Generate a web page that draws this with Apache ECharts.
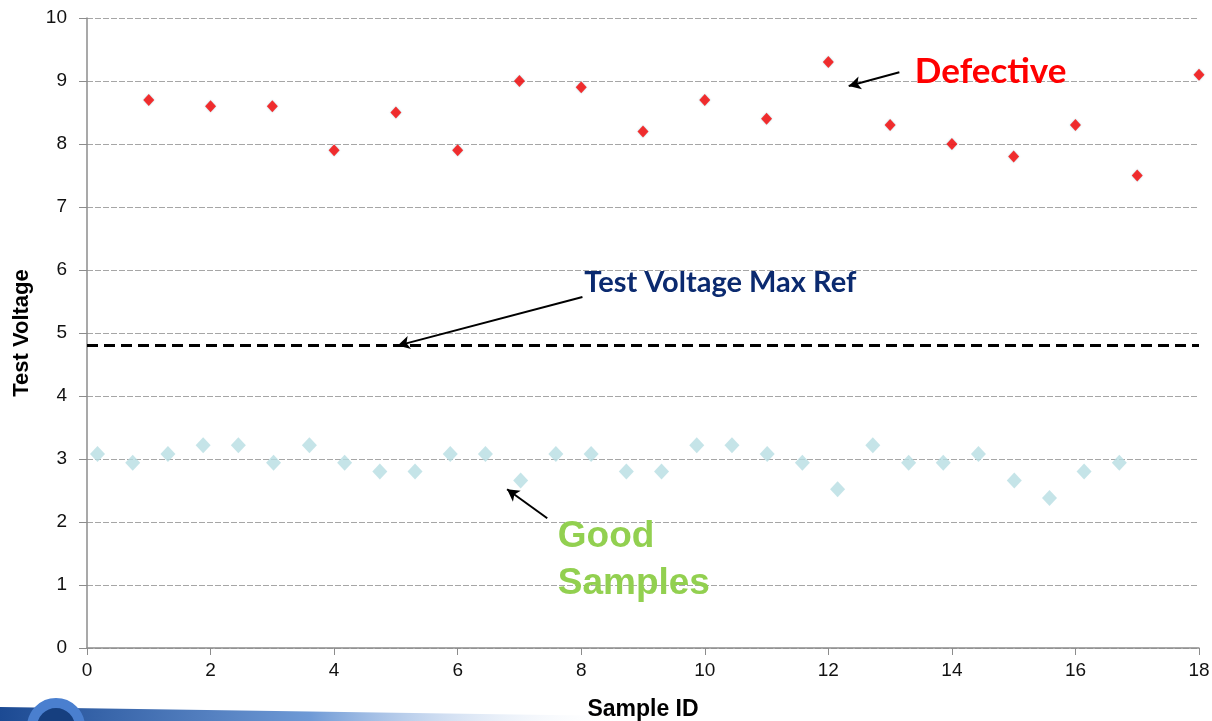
<!DOCTYPE html>
<html>
<head>
<meta charset="utf-8">
<script src="https://cdn.jsdelivr.net/npm/echarts@6/dist/echarts.min.js"></script>
<style>
html,body{margin:0;padding:0;background:#fff;}
#chart{width:1212px;height:721px;}
</style>
</head>
<body>
<div id="chart"></div>
<script>
// ---- data ----
const goodX = [0.17,0.74,1.31,1.88,2.45,3.02,3.60,4.17,4.74,5.31,5.88,6.45,7.02,7.59,8.16,
               8.73,9.30,9.87,10.44,11.01,11.58,12.15,12.72,13.30,13.86,14.43,15.01,15.58,16.14,16.71];
const goodY = [3.08,2.94,3.08,3.22,3.22,2.94,3.22,2.94,2.80,2.80,3.08,3.08,2.66,3.08,3.08,
               2.80,2.80,3.22,3.22,3.08,2.94,2.52,3.22,2.94,2.94,3.08,2.66,2.38,2.80,2.94];
const defectX = [1,2,3,4,5,6,7,8,9,10,11,12,13,14,15,16,17,18];
const defectY = [8.7,8.6,8.6,7.9,8.5,7.9,9.0,8.9,8.2,8.7,8.4,9.3,8.3,8.0,7.8,8.3,7.5,9.1];
const refVoltage = 4.8;
const xAxisName = 'Sample ID';
const yAxisName = 'Test Voltage';
const labelDefective = 'Defective';
const labelRef = 'Test Voltage Max Ref';
const labelGood = 'Good\nSamples';

const goodData = goodX.map((x, i) => [x, goodY[i]]);
const defectData = defectX.map((x, i) => [x, defectY[i]]);

const chart = echarts.init(document.getElementById('chart'));
const arrowLine = (from, to) => ({
  type: 'line', data: [], silent: true,
  markLine: {
    silent: true, animation: false,
    symbol: ['none', 'arrow'], symbolSize: [10, 12],
    label: {show: false},
    lineStyle: {color: '#000', width: 2, type: 'solid'},
    data: [[{coord: from}, {coord: to}]]
  }
});

chart.setOption({
  animation: false,
  backgroundColor: '#fff',
  grid: {left: 87, right: 13, top: 18, bottom: 73, containLabel: false, outerBoundsMode: 'none'},
  xAxis: {
    type: 'value', min: 0, max: 18, interval: 2,
    name: xAxisName, nameLocation: 'middle', nameGap: 50,
    nameTextStyle: {fontFamily: 'Liberation Sans', fontWeight: 'bold', fontSize: 23, color: '#000'},
    axisLine: {show: true, lineStyle: {color: '#8c8c8c', width: 1.5}},
    axisTick: {show: true, length: 7, lineStyle: {color: '#8c8c8c'}},
    axisLabel: {fontFamily: 'Liberation Sans', fontSize: 19, color: '#111', margin: 13},
    splitLine: {show: false}
  },
  yAxis: {
    type: 'value', min: 0, max: 10, interval: 1,
    name: yAxisName, nameLocation: 'middle', nameGap: 54, nameRotate: 90,
    nameTextStyle: {fontFamily: 'Liberation Sans', fontWeight: 'bold', fontSize: 22, color: '#000'},
    axisLine: {show: true, lineStyle: {color: '#8c8c8c', width: 1.5}},
    axisTick: {show: true, length: 8, lineStyle: {color: '#8c8c8c'}},
    axisLabel: {fontFamily: 'Liberation Sans', fontSize: 19, color: '#111', margin: 20},
    splitLine: {show: true, lineStyle: {color: '#a6a6a6', width: 1, type: [6, 2]}}
  },
  series: [
    {
      name: 'Good', type: 'scatter', data: goodData,
      symbol: 'diamond', symbolSize: [15, 16],
      itemStyle: {color: '#b7dde2'}
    },
    {
      name: 'Defective', type: 'scatter', data: defectData,
      symbol: 'diamond', symbolSize: [11, 12],
      itemStyle: {color: '#ff0000', shadowColor: 'rgba(120,200,210,0.8)', shadowBlur: 2}
    },
    {
      name: 'Ref', type: 'line', data: [[0, refVoltage], [18, refVoltage]],
      symbol: 'none', lineStyle: {color: '#000', width: 3, type: [11, 6]}
    },
    arrowLine([8.02, 5.57], [5.03, 4.8]),
    arrowLine([13.15, 9.14], [12.33, 8.92]),
    arrowLine([7.45, 2.06], [6.8, 2.52])
  ]
});

function place() {
  const p = (x, y) => chart.convertToPixel({gridIndex: 0}, [x, y]);
  const d = p(13.4, 9.14);
  const r = p(8.05, 5.80);
  const g = p(7.62, 1.40);
  chart.setOption({
    graphic: [
      {type: 'text', x: d[0], y: d[1], style: {text: labelDefective, fill: '#ff0000',
        font: 'bold 35px Lato', verticalAlign: 'middle', align: 'left'}},
      {type: 'text', x: r[0], y: r[1], style: {text: labelRef, fill: '#0b2a6f',
        font: 'bold 29px Lato', verticalAlign: 'middle', align: 'left'}},
      {type: 'text', x: g[0], y: g[1], style: {text: labelGood, fill: '#92d050',
        font: 'bold 37px "Liberation Sans"', lineHeight: 47, verticalAlign: 'middle', align: 'left'}},
      {type: 'polygon', shape: {points: [[0, 707], [620, 716], [620, 721], [0, 721]]},
        style: {fill: new echarts.graphic.LinearGradient(0, 0, 1, 0, [
          {offset: 0, color: '#1c4a93'}, {offset: 0.5, color: '#6f9ad6'}, {offset: 1, color: 'rgba(255,255,255,0)'}])}},
      {type: 'circle', shape: {cx: 56, cy: 727, r: 24},
        style: {fill: '#163f7f', stroke: '#4a7fcf', lineWidth: 10}}
    ]
  });
}
place();
</script>
</body>
</html>
